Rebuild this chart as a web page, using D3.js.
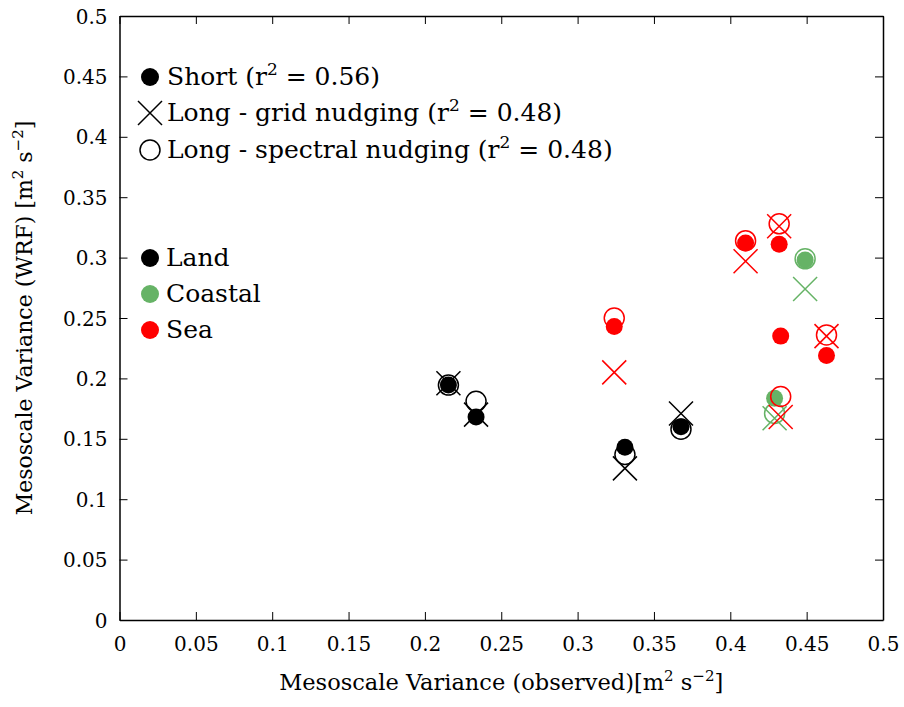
<!DOCTYPE html>
<html>
<head>
<meta charset="utf-8">
<script src="https://cdn.jsdelivr.net/npm/d3@7"></script>
<style>
  body { margin: 0; background: #fff; }
  svg text { font-family: "DejaVu Serif", "Liberation Serif", serif; fill: #000; }
</style>
</head>
<body>
<div id="chart"></div>
<script>
// station data: observed variance and the three WRF runs
var stationType = ["Land", "Land", "Land", "Land", "Coastal", "Coastal", "Sea", "Sea", "Sea", "Sea", "Sea"];
var observed    = [0.2154, 0.2335, 0.331, 0.3677, 0.449, 0.429, 0.324, 0.410, 0.432, 0.433, 0.463];
var shortRun    = [0.1945, 0.168, 0.143, 0.160, 0.298, 0.1835, 0.243, 0.312, 0.311, 0.235, 0.219];
var gridRun     = [0.196, 0.170, 0.1255, 0.171, 0.274, 0.167, 0.205, 0.297, 0.326, 0.168, 0.235];
var spectralRun = [0.1945, 0.181, 0.137, 0.158, 0.299, 0.171, 0.250, 0.314, 0.328, 0.185, 0.236];

var typeNames  = ["Land", "Coastal", "Sea"];
var typeColors = ["#000000", "#66b366", "#ff0000"];
var xTicks = [0, 0.05, 0.1, 0.15, 0.2, 0.25, 0.3, 0.35, 0.4, 0.45, 0.5];
var yTicks = [0, 0.05, 0.1, 0.15, 0.2, 0.25, 0.3, 0.35, 0.4, 0.45, 0.5];

var width = 904, height = 707;
var margin = {top: 16, right: 21, bottom: 87, left: 119.5};

var svg = d3.select("#chart").append("svg")
    .attr("width", width)
    .attr("height", height);

var x = d3.scaleLinear().domain([0, 0.5]).range([margin.left, width - margin.right]);
var y = d3.scaleLinear().domain([0, 0.5]).range([height - margin.bottom, margin.top]);
var color = d3.scaleOrdinal().domain(typeNames).range(typeColors);

var fmt = function(d) { return String(+d.toFixed(2)); };
var tickLen = 8;

// axes: bottom/left with labels, top/right ticks only, all ticks inward
var xAxis = svg.append("g")
    .attr("transform", "translate(0," + y(0) + ")")
    .call(d3.axisBottom(x).tickValues(xTicks).tickFormat(fmt).tickSizeInner(-tickLen).tickSizeOuter(0).tickPadding(17));
var yAxis = svg.append("g")
    .attr("transform", "translate(" + x(0) + ",0)")
    .call(d3.axisLeft(y).tickValues(yTicks).tickFormat(fmt).tickSizeInner(-tickLen).tickSizeOuter(0).tickPadding(12));
var xTop = svg.append("g")
    .attr("transform", "translate(0," + y(0.5) + ")")
    .call(d3.axisTop(x).tickValues(xTicks).tickFormat("").tickSizeInner(-tickLen).tickSizeOuter(0));
var yRight = svg.append("g")
    .attr("transform", "translate(" + x(0.5) + ",0)")
    .call(d3.axisRight(y).tickValues(yTicks).tickFormat("").tickSizeInner(-tickLen).tickSizeOuter(0));

[xAxis, yAxis, xTop, yRight].forEach(function(g) {
    g.select(".domain").attr("stroke", "#000").attr("stroke-width", 1.5);
    g.selectAll(".tick line").attr("stroke", "#000").attr("stroke-width", 1);
    g.selectAll("text").style("font-family", "'DejaVu Serif', serif").style("font-size", "20px").attr("fill", "#000");
});
xAxis.selectAll("text").attr("dy", "0.71em");
yAxis.selectAll("text").attr("dy", "0.35em");

// axis labels
function unitLabel(sel, pre) {
    sel.append("tspan").text(pre + "[m");
    sel.append("tspan").attr("dy", -9).style("font-size", "15px").text("2");
    sel.append("tspan").attr("dy", 9).text(" s");
    sel.append("tspan").attr("dy", -9).style("font-size", "15px").text("\u22122");
    sel.append("tspan").attr("dy", 9).text("]");
}
var xLabel = svg.append("text")
    .attr("x", (x(0) + x(0.5)) / 2)
    .attr("y", 690)
    .attr("text-anchor", "middle")
    .style("font-size", "22.5px");
unitLabel(xLabel, "Mesoscale Variance (observed)");

var yLabel = svg.append("text")
    .attr("transform", "translate(32," + ((y(0) + y(0.5)) / 2) + ") rotate(-90)")
    .attr("text-anchor", "middle")
    .style("font-size", "22px");
unitLabel(yLabel, "Mesoscale Variance (WRF) ");

// markers
var xSize = 12, rFill = 8.5, rOpen = 10;
function drawCross(g, cx, cy, s, col) {
    g.append("path")
        .attr("d", "M" + (cx - s) + "," + (cy - s) + "L" + (cx + s) + "," + (cy + s) +
                   "M" + (cx - s) + "," + (cy + s) + "L" + (cx + s) + "," + (cy - s))
        .attr("stroke", col).attr("stroke-width", 1.5).attr("fill", "none");
}

var marks = svg.append("g");
observed.forEach(function(ob, i) {
    var col = color(stationType[i]);
    marks.append("circle")
        .attr("cx", x(ob)).attr("cy", y(shortRun[i])).attr("r", rFill)
        .attr("fill", col);
    drawCross(marks, x(ob), y(gridRun[i]), xSize, col);
    marks.append("circle")
        .attr("cx", x(ob)).attr("cy", y(spectralRun[i])).attr("r", rOpen)
        .attr("fill", "none").attr("stroke", col).attr("stroke-width", 1.5);
});

// legend for run type
var legend = svg.append("g");
var runLabels = [
    ["Short (r", "2", " = 0.56)"],
    ["Long - grid nudging (r", "2", " = 0.48)"],
    ["Long - spectral nudging (r", "2", " = 0.48)"]
];
var runRows = [77, 113, 150];
legend.append("circle").attr("cx", 150).attr("cy", runRows[0]).attr("r", 9).attr("fill", "#000");
drawCross(legend, 150, runRows[1], 12, "#000");
legend.append("circle").attr("cx", 150).attr("cy", runRows[2]).attr("r", 10)
    .attr("fill", "none").attr("stroke", "#000").attr("stroke-width", 1.5);
runLabels.forEach(function(parts, i) {
    var t = legend.append("text").attr("x", 167).attr("y", runRows[i] + 8).style("font-size", "25px");
    t.append("tspan").text(parts[0]);
    t.append("tspan").attr("dy", -10).style("font-size", "17px").text(parts[1]);
    t.append("tspan").attr("dy", 10).text(parts[2]);
});

// legend for station type
var typeRows = [258, 294, 330];
typeNames.forEach(function(name, i) {
    legend.append("circle").attr("cx", 150).attr("cy", typeRows[i]).attr("r", 9).attr("fill", color(name));
    legend.append("text").attr("x", 166).attr("y", typeRows[i] + 8).style("font-size", "25px").text(name);
});
</script>
</body>
</html>
